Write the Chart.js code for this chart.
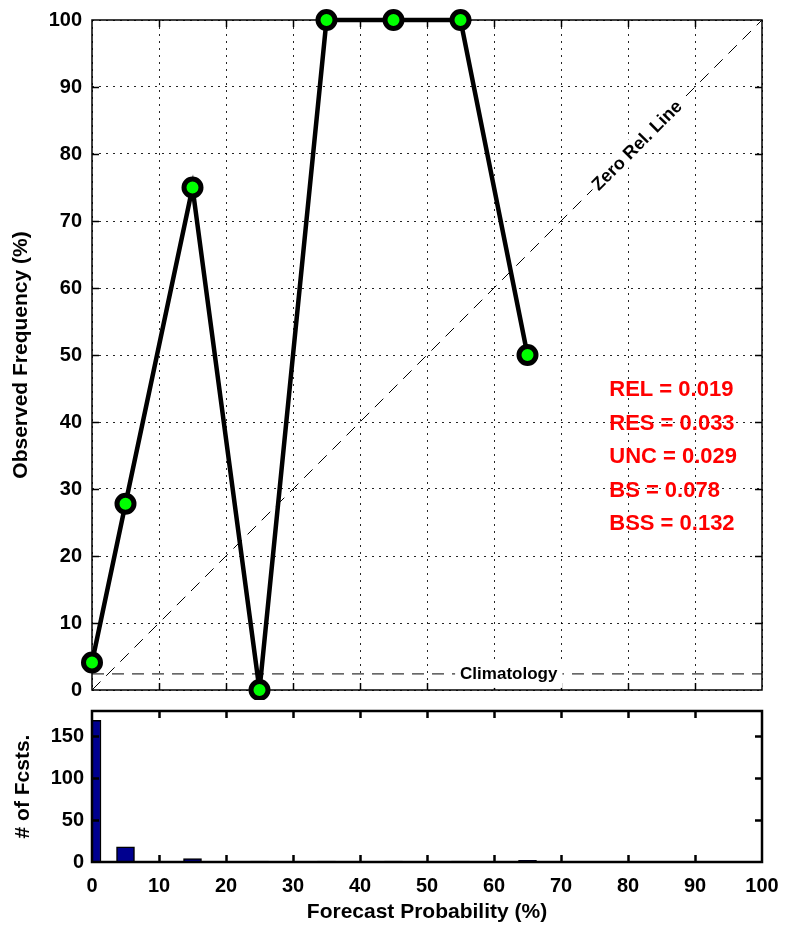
<!DOCTYPE html>
<html>
<head>
<meta charset="utf-8">
<title>Reliability diagram</title>
<script src="https://cdn.jsdelivr.net/npm/chart.js@4/dist/chart.umd.min.js"></script>
<style>
  html, body { margin: 0; padding: 0; background: #fff; }
  #wrap { position: relative; width: 785px; height: 926px; overflow: hidden; }
  canvas { position: absolute; left: 0; }
  #relCanvas { top: 0; }
  #histCanvas { top: 700px; }
</style>
</head>
<body>
<div id="wrap">
  <canvas id="relCanvas" width="785" height="700" style="width:785px;height:700px"></canvas>
  <canvas id="histCanvas" width="785" height="226" style="width:785px;height:226px"></canvas>
</div>
<script>
// Forecast probability bins (%) and what was observed in each
const probBins = [0, 5, 15, 25, 35, 45, 55, 65];
const observedFreq = [4.1, 27.8, 75, 0, 100, 100, 100, 50];
const forecastCounts = [169, 18, 4, 1, 1, 1, 1, 2];
const climatologyFreq = 2.4;

// Axis tick values
const probTicks = [0, 10, 20, 30, 40, 50, 60, 70, 80, 90, 100];
const freqTicks = [0, 10, 20, 30, 40, 50, 60, 70, 80, 90, 100];
const countTicks = [0, 50, 100, 150];

// Brier score decomposition
const scoreLines = ['REL = 0.019', 'RES = 0.033', 'UNC = 0.029', 'BS = 0.078', 'BSS = 0.132'];

const FONT = "'Liberation Sans', Arial, Helvetica, sans-serif";
Chart.defaults.font.family = FONT;
Chart.defaults.color = '#000';

const setTicks = (values) => (scale) => { scale.ticks = values.map(v => ({ value: v })); };

// Fixed axis box size; tick labels may overhang the plot area
const fixSize = (prop, size) => (scale) => {
  scale[prop] = size;
  scale.paddingTop = 0; scale.paddingBottom = 0;
  scale.paddingLeft = 0; scale.paddingRight = 0;
};

// Box round the plot area with MATLAB-style inward tick marks
function framePlugin(id, lineWidth, hook) {
  const p = { id };
  p[hook] = (chart) => {
    const { ctx, chartArea: a, scales: { x, y } } = chart;
    const len = 7;
    ctx.save();
    ctx.strokeStyle = '#000';
    ctx.lineWidth = lineWidth;
    ctx.beginPath();
    x.ticks.forEach(t => {
      if (t.value <= x.min || t.value >= x.max) return;
      const px = Math.round(x.getPixelForValue(t.value)) + 0.5;
      ctx.moveTo(px, a.bottom); ctx.lineTo(px, a.bottom - len);
      ctx.moveTo(px, a.top); ctx.lineTo(px, a.top + len);
    });
    y.ticks.forEach(t => {
      if (t.value <= y.min || t.value >= y.max) return;
      const py = Math.round(y.getPixelForValue(t.value)) + 0.5;
      ctx.moveTo(a.left, py); ctx.lineTo(a.left + len, py);
      ctx.moveTo(a.right, py); ctx.lineTo(a.right - len, py);
    });
    ctx.stroke();
    ctx.strokeRect(a.left, a.top, a.right - a.left, a.bottom - a.top);
    ctx.restore();
  };
  return p;
}

// Annotations: reference line labels and the score summary
const annotationPlugin = {
  id: 'annotations',
  afterDatasetsDraw(chart) {
    const { ctx, scales: { x, y } } = chart;
    ctx.save();

    // "Zero Rel. Line" sits on the diagonal
    ctx.font = `bold 18px ${FONT}`;
    ctx.textAlign = 'center';
    ctx.textBaseline = 'middle';
    const zx = x.getPixelForValue(81.3), zy = y.getPixelForValue(81.3);
    const ang = Math.atan2(y.getPixelForValue(100) - y.getPixelForValue(0),
                           x.getPixelForValue(100) - x.getPixelForValue(0));
    ctx.translate(zx, zy);
    ctx.rotate(ang);
    const zText = 'Zero Rel. Line';
    const zw = ctx.measureText(zText).width;
    ctx.fillStyle = '#fff';
    ctx.fillRect(-zw / 2 - 3, -10, zw + 6, 20);
    ctx.fillStyle = '#000';
    ctx.fillText(zText, 0, 1);
    ctx.setTransform(1, 0, 0, 1, 0, 0);

    // "Climatology" sits on the horizontal climatology line
    ctx.font = `bold 17px ${FONT}`;
    const cText = 'Climatology';
    const cw = ctx.measureText(cText).width;
    const cx = x.getPixelForValue(62.2), cy = y.getPixelForValue(climatologyFreq);
    ctx.fillStyle = '#fff';
    ctx.fillRect(cx - cw / 2 - 5, cy - 13, cw + 10, 27);
    ctx.fillStyle = '#000';
    ctx.fillText(cText, cx, cy);

    // Score summary
    ctx.font = `bold 22px ${FONT}`;
    ctx.textAlign = 'left';
    ctx.fillStyle = '#ff0000';
    const sx = x.getPixelForValue(77.2);
    scoreLines.forEach((s, i) => {
      ctx.fillText(s, sx, y.getPixelForValue(44.9 - i * 5) + 1);
    });
    ctx.restore();
  }
};

const gridStyle = { color: 'rgba(0,0,0,0.85)', lineWidth: 1, drawTicks: false };
const gridBorder = { display: false, dash: [2, 5] };

new Chart(document.getElementById('relCanvas'), {
  type: 'line',
  data: {
    datasets: [
      {
        data: probBins.map((p, i) => ({ x: p, y: observedFreq[i] })),
        borderColor: '#000',
        borderWidth: 4.5,
        pointRadius: 8.5,
        pointBorderWidth: 5,
        pointBackgroundColor: '#00ff00',
        pointBorderColor: '#000',
        tension: 0,
        clip: false
      },
      {
        data: [{ x: 0, y: 0 }, { x: 100, y: 100 }],
        borderColor: '#000',
        borderWidth: 1,
        borderDash: [12, 8],
        pointRadius: 0
      },
      {
        data: [{ x: 0, y: climatologyFreq }, { x: 100, y: climatologyFreq }],
        borderColor: '#000',
        borderWidth: 1,
        borderDash: [12, 8],
        pointRadius: 0
      }
    ]
  },
  options: {
    responsive: false,
    animation: false,
    events: [],
    layout: { autoPadding: false, padding: { top: 20, right: 23, left: 0, bottom: 0 } },
    plugins: { legend: { display: false }, tooltip: { enabled: false } },
    scales: {
      x: {
        type: 'linear', min: 0, max: 100,
        afterBuildTicks: setTicks(probTicks),
        ticks: { display: false },
        grid: gridStyle,
        border: gridBorder,
        afterFit: fixSize('height', 10)
      },
      y: {
        type: 'linear', min: 0, max: 100,
        afterBuildTicks: setTicks(freqTicks),
        ticks: { padding: 10, color: '#000', font: { size: 20, weight: 'bold' } },
        grid: gridStyle,
        border: gridBorder,
        title: {
          display: true, text: 'Observed Frequency (%)', color: '#000',
          font: { size: 21, weight: 'bold' }, padding: { top: 9, bottom: 0 }
        },
        afterFit: fixSize('width', 92)
      }
    }
  },
  plugins: [framePlugin('relFrame', 1.5, 'beforeDatasetsDraw'), annotationPlugin]
});

new Chart(document.getElementById('histCanvas'), {
  type: 'bar',
  data: {
    datasets: [{
      data: probBins.map((p, i) => ({ x: p, y: forecastCounts[i] })),
      backgroundColor: '#00008f',
      borderColor: '#000',
      borderWidth: 1.5,
      barThickness: 18
    }]
  },
  options: {
    responsive: false,
    animation: false,
    events: [],
    layout: { autoPadding: false, padding: { top: 11, right: 23, left: 0, bottom: 0 } },
    plugins: { legend: { display: false }, tooltip: { enabled: false } },
    scales: {
      x: {
        type: 'linear', min: 0, max: 100, offset: false,
        afterBuildTicks: setTicks(probTicks),
        ticks: { padding: 12, color: '#000', maxRotation: 0, font: { size: 20, weight: 'bold' } },
        grid: { display: false, drawTicks: false, offset: false },
        border: { display: false },
        title: {
          display: true, text: 'Forecast Probability (%)', color: '#000',
          font: { size: 21, weight: 'bold' }, padding: { top: 0, bottom: 1 }
        },
        afterFit: fixSize('height', 64)
      },
      y: {
        type: 'linear', min: 0, max: 180,
        afterBuildTicks: setTicks(countTicks),
        ticks: { padding: 8, color: '#000', font: { size: 20, weight: 'bold' } },
        grid: { display: false, drawTicks: false },
        border: { display: false },
        title: {
          display: true, text: '# of Fcsts.', color: '#000',
          font: { size: 21, weight: 'bold' }, padding: { top: 11, bottom: 0 }
        },
        afterFit: fixSize('width', 92)
      }
    }
  },
  plugins: [framePlugin('histFrame', 2.5, 'afterDatasetsDraw')]
});
</script>
</body>
</html>
